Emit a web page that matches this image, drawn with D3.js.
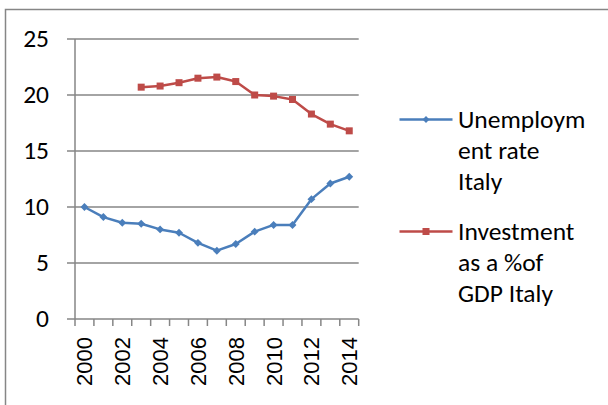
<!DOCTYPE html>
<html>
<head>
<meta charset="utf-8">
<script src="https://cdn.jsdelivr.net/npm/d3@7"></script>
<style>
  html, body { margin: 0; padding: 0; background: #fff; }
  svg { display: block; }
</style>
</head>
<body>
<svg id="chart" width="608" height="405"></svg>
<script>
// Italy: unemployment rate and investment share of GDP, 2000–2014
const years = [2000, 2001, 2002, 2003, 2004, 2005, 2006, 2007, 2008, 2009, 2010, 2011, 2012, 2013, 2014];
const unemployment = [10.0, 9.1, 8.6, 8.5, 8.0, 7.7, 6.8, 6.1, 6.7, 7.8, 8.4, 8.4, 10.7, 12.1, 12.7];
const investment = [null, null, null, 20.7, 20.8, 21.1, 21.5, 21.6, 21.2, 20.0, 19.9, 19.6, 18.3, 17.4, 16.8];
const yTicks = [0, 5, 10, 15, 20, 25];
const yearLabels = [2000, 2002, 2004, 2006, 2008, 2010, 2012, 2014];
const seriesNames = [
  ["Unemploym", "ent rate", "Italy"],
  ["Investment", "as a %of", "GDP Italy"]
];
const seriesColors = ["#4A7EBB", "#BE4B48"];

const svg = d3.select("#chart");
const grey = "#868686";
const labelFont = "Carlito, Calibri, 'Open Sans', sans-serif";

// outer chart frame
svg.append("rect")
  .attr("x", 5.5).attr("y", 9.5)
  .attr("width", 640).attr("height", 440)
  .attr("fill", "#fff").attr("stroke", grey).attr("stroke-width", 1.5);

const x = d3.scaleBand().domain(years).range([75, 358.7]).padding(0);
const y = d3.scaleLinear().domain([0, 25]).range([319, 39]);
const cx = d => x(d) + x.bandwidth() / 2;

// horizontal gridlines with left tick stubs
const g = svg.append("g");
g.selectAll("line.grid").data(yTicks).join("line")
  .attr("class", "grid")
  .attr("x1", 67).attr("x2", 358.7)
  .attr("y1", d => y(d)).attr("y2", d => y(d))
  .attr("stroke", grey).attr("stroke-width", 1.5);

// y axis line
g.append("line")
  .attr("x1", 75).attr("x2", 75)
  .attr("y1", y(25)).attr("y2", y(0))
  .attr("stroke", grey).attr("stroke-width", 1.5);

// y tick labels
g.selectAll("text.ylab").data(yTicks).join("text")
  .attr("class", "ylab")
  .attr("x", 49).attr("y", d => y(d))
  .attr("dy", "0.33em")
  .attr("text-anchor", "end")
  .attr("font-family", labelFont)
  .attr("font-size", 25.5)
  .attr("fill", "#000")
  .text(d => d);

// x category boundary ticks
const edges = years.map(d => x(d)).concat([x(years[years.length - 1]) + x.bandwidth()]);
g.selectAll("line.xt").data(edges).join("line")
  .attr("class", "xt")
  .attr("x1", d => d).attr("x2", d => d)
  .attr("y1", y(0)).attr("y2", y(0) + 7)
  .attr("stroke", grey).attr("stroke-width", 1.5);

// rotated year labels
g.selectAll("text.xlab").data(yearLabels).join("text")
  .attr("class", "xlab")
  .attr("transform", d => `translate(${cx(d)},${y(0) + 18}) rotate(-90)`)
  .attr("dy", "0.36em")
  .attr("text-anchor", "end")
  .attr("font-family", "Liberation Sans, Arial, sans-serif")
  .attr("font-size", 22)
  .attr("fill", "#000")
  .text(d => d);

// series lines
const line = d3.line()
  .defined(d => d.v != null)
  .x(d => cx(d.year))
  .y(d => y(d.v));

const uData = years.map((yr, i) => ({ year: yr, v: unemployment[i] }));
const iData = years.map((yr, i) => ({ year: yr, v: investment[i] })).filter(d => d.v != null);

svg.append("path").datum(uData)
  .attr("d", line).attr("fill", "none")
  .attr("stroke", seriesColors[0]).attr("stroke-width", 2.5)
  .attr("stroke-linejoin", "round");
svg.append("path").datum(iData)
  .attr("d", line).attr("fill", "none")
  .attr("stroke", seriesColors[1]).attr("stroke-width", 2.5)
  .attr("stroke-linejoin", "round");

// markers: diamonds for unemployment, squares for investment
const diamond = d3.symbol().type(d3.symbolDiamond2).size(40);
svg.selectAll("path.um").data(uData).join("path")
  .attr("class", "um")
  .attr("transform", d => `translate(${cx(d.year)},${y(d.v)})`)
  .attr("d", diamond)
  .attr("fill", seriesColors[0]);

svg.selectAll("rect.im").data(iData).join("rect")
  .attr("class", "im")
  .attr("x", d => cx(d.year) - 3.5).attr("y", d => y(d.v) - 3.5)
  .attr("width", 7).attr("height", 7)
  .attr("fill", seriesColors[1]);

// legend
const legendTop = [119.5, 231.5];
const lg = svg.append("g");
seriesNames.forEach((lines, i) => {
  const ly = legendTop[i];
  lg.append("line")
    .attr("x1", 399.5).attr("x2", 452.5)
    .attr("y1", ly).attr("y2", ly)
    .attr("stroke", seriesColors[i]).attr("stroke-width", 2.5);
  if (i === 0) {
    lg.append("path")
      .attr("transform", `translate(426,${ly})`)
      .attr("d", d3.symbol().type(d3.symbolDiamond2).size(30))
      .attr("fill", seriesColors[i]);
  } else {
    lg.append("rect")
      .attr("x", 422.5).attr("y", ly - 3.5)
      .attr("width", 7).attr("height", 7)
      .attr("fill", seriesColors[i]);
  }
  const t = lg.append("text")
    .attr("x", 458)
    .attr("y", ly + 8.5)
    .attr("font-family", labelFont)
    .attr("font-size", 25.5)
    .attr("fill", "#000");
  lines.forEach((s, k) => {
    t.append("tspan").attr("x", 458).attr("dy", k === 0 ? 0 : 31).text(s);
  });
});
</script>
</body>
</html>
